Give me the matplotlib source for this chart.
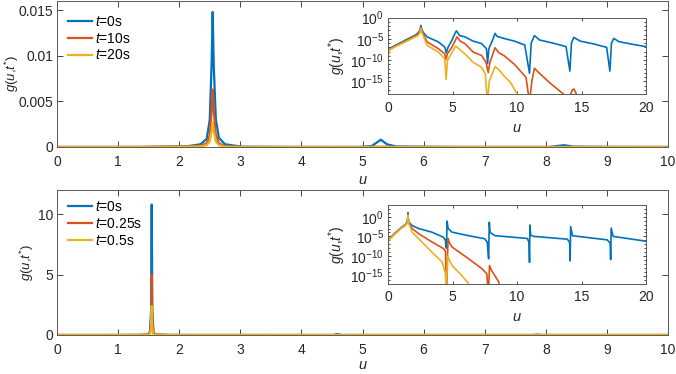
import matplotlib.pyplot as plt
from matplotlib.ticker import LogLocator, NullFormatter

plt.rcParams['font.family'] = 'Liberation Sans'
plt.rcParams['font.size'] = 10
plt.rcParams['mathtext.fontset'] = 'custom'
plt.rcParams['mathtext.rm'] = 'Liberation Sans'
plt.rcParams['mathtext.it'] = 'Liberation Sans:italic'

# MATLAB default line colours
colors = ['#0072BD', '#D95319', '#EDB120']
text_col = '#262626'

# ---- top panel data ----
labels_top = [r'$t$=0s', r'$t$=10s', r'$t$=20s']

u_top_0 = [0, 0.1, 0.58, 1.35, 2.13, 2.35, 2.45, 2.5, 2.53, 2.548, 2.565, 2.6, 2.65, 2.75,
           3.03, 3.9, 4.4, 4.52, 4.65, 4.96, 5.15, 5.3, 5.4, 5.55, 5.96, 6.6, 7.25, 7.63,
           7.72, 7.82, 8.05, 8.3, 8.45, 8.98, 9.8, 10.6, 10.97, 11.1, 11.35, 11.75, 12.8,
           13.8, 14.1, 14.22, 14.4, 14.9, 16.0, 16.95, 17.2, 17.32, 17.5, 17.9, 19.0, 20]
g_top_0 = [8e-9, 5e-8, 3e-7, 5e-6, 8e-5, 3e-4, 9e-4, 3e-3, 9e-3, 1.48e-2, 9e-3, 3e-3, 1e-3, 3e-4,
           3e-5, 2e-6, 1.2e-7, 5e-9, 1e-7, 5e-6, 1e-4, 8e-4, 3e-4, 6e-5, 3e-5, 3e-6, 8e-7, 5e-8,
           1.5e-11, 5e-8, 2e-6, 2e-4, 4e-5, 1.3e-5, 3e-6, 3.6e-7, 8e-14, 1e-6, 6e-5, 5.5e-6, 1e-6,
           1.5e-7, 2.5e-13, 1e-6, 2.3e-5, 3e-6, 6e-7, 1e-7, 2.5e-13, 8e-7, 1.3e-5, 2.2e-6, 5e-7, 1.5e-7]

u_top_1 = [0, 0.1, 0.58, 1.35, 2.13, 2.35, 2.45, 2.5, 2.53, 2.548, 2.565, 2.6, 2.65, 2.75,
           3.03, 3.9, 4.4, 4.5, 4.6, 4.96, 5.35, 5.6, 5.96, 6.6, 7.25, 7.6, 7.77, 7.9, 8.3,
           8.6, 8.98, 9.8, 10.7, 10.97, 11.15, 11.35, 11.7, 12.6, 13.6, 13.9, 14.3, 14.42,
           14.6, 14.8, 20]
g_top_1 = [5e-9, 3e-8, 2e-7, 3e-6, 5e-5, 1.5e-4, 4e-4, 1.3e-3, 4e-3, 6.3e-3, 4e-3, 1.3e-3, 4e-4, 1e-4,
           2e-6, 5e-8, 3e-9, 1.5e-10, 3e-9, 1.2e-7, 3e-5, 3e-6, 8e-7, 8e-9, 1.2e-9, 3e-11, 1.2e-13,
           3e-11, 8e-8, 5e-9, 1.2e-9, 1e-11, 8e-15, 1e-20, 1e-15, 1.2e-12, 1e-13, 3e-16, 1e-18,
           1e-20, 1e-17, 1.5e-17, 1e-18, 1e-20, 1e-20]

u_top_2 = [0, 0.04, 0.15, 0.58, 1.35, 2.13, 2.35, 2.45, 2.5, 2.53, 2.548, 2.565, 2.6, 2.65,
           2.75, 3.03, 3.9, 4.4, 4.5, 4.62, 5.25, 5.96, 6.6, 7.25, 7.55, 7.7, 7.85, 8.3, 8.6,
           8.98, 9.5, 10.0, 10.2, 20]
g_top_2 = [6e-12, 3e-9, 3e-8, 1.5e-7, 2e-6, 3e-5, 7e-5, 2e-4, 6e-4, 1.8e-3, 2.7e-3, 1.8e-3, 6e-4, 2e-4,
           4e-5, 3e-7, 8e-9, 2e-10, 3e-15, 1e-10, 2e-7, 3e-9, 3e-11, 2e-12, 5e-14, 1e-20, 1e-15,
           3e-12, 5e-13, 2e-14, 5e-16, 1.2e-18, 1e-20, 1e-20]

# ---- bottom panel data ----
labels_bot = [r'$t$=0s', r'$t$=0.25s', r'$t$=0.5s']

u_bot_0 = [0, 0.5, 1.08, 1.35, 1.48, 1.52, 1.54, 1.55, 1.56, 1.58, 1.62, 1.87, 2.38, 3.4,
           4.3, 4.45, 4.53, 4.58, 4.66, 4.96, 6.25, 7.5, 7.7, 7.8, 7.85, 7.92, 8.3, 8.95,
           10.8, 10.93, 10.97, 11.0, 11.06, 11.3, 13.9, 14.08, 14.12, 14.16, 14.3, 17.0,
           17.22, 17.26, 17.3, 17.45, 20]
g_bot_0 = [1e-6, 5e-5, 2.5e-3, 1e-2, 4e-2, 0.2, 2.0, 10.8, 2.0, 0.2, 4e-2, 6e-3, 1e-3, 1.2e-4,
           6e-6, 1e-6, 1e-8, 8e-2, 1e-3, 1.2e-4, 1.5e-5, 2.5e-6, 3e-7, 2e-11, 4e-2, 1e-4, 1.5e-5, 1e-5,
           3e-6, 3e-7, 2.5e-12, 8e-3, 2e-5, 1e-5, 2e-6, 3e-7, 6e-12, 3e-3, 1.5e-5, 1.3e-6,
           2e-7, 1.2e-11, 1.3e-3, 1e-5, 6e-7]

u_bot_1 = [0, 0.5, 1.08, 1.35, 1.48, 1.52, 1.54, 1.55, 1.56, 1.58, 1.62, 1.87, 2.38, 3.4,
           4.3, 4.45, 4.55, 4.65, 4.75, 4.96, 6.25, 7.28, 7.66, 7.78, 7.87, 8.0, 8.57, 8.8, 20]
g_bot_1 = [1e-6, 4e-5, 2e-3, 8e-3, 3e-2, 0.12, 1.0, 5.0, 1.0, 0.12, 2.5e-2, 1e-3, 5e-5, 4e-7,
           8e-9, 2e-9, 1e-20, 3e-6, 3e-7, 2e-8, 2e-11, 6e-14, 3e-15, 1e-20, 4e-13, 3e-14, 3e-17,
           1e-20, 1e-20]

u_bot_2 = [0, 0.05, 0.5, 1.08, 1.35, 1.48, 1.52, 1.54, 1.55, 1.56, 1.58, 1.62, 1.87, 2.38,
           3.4, 4.2, 4.45, 4.52, 4.6, 4.96, 5.7, 6.25, 6.4, 20]
g_bot_2 = [2e-11, 1e-6, 3e-5, 1.5e-3, 6e-3, 2e-2, 6e-2, 0.5, 2.4, 0.5, 6e-2, 1.5e-2, 1.2e-4, 2.5e-6,
           1e-9, 3e-12, 3e-15, 1e-20, 1e-10, 4e-13, 1.2e-15, 1e-17, 1e-20, 1e-20]

top_series = [(u_top_0, g_top_0), (u_top_1, g_top_1), (u_top_2, g_top_2)]
bot_series = [(u_bot_0, g_bot_0), (u_bot_1, g_bot_1), (u_bot_2, g_bot_2)]

ylab = r'$g$($u$,$t^{*}$)'

W, H = 676, 374


def rect(x0, y0, x1, y1):
    # pixel box (top-left origin) -> figure fraction
    return [x0 / W, 1 - y1 / H, (x1 - x0) / W, (y1 - y0) / H]


def style(ax, ticklen, xpad, ypad):
    for s in ax.spines.values():
        s.set_color('#5a5a5a')
        s.set_linewidth(0.7)
    ax.tick_params(which='both', direction='in', top=True, right=True, colors=text_col,
                   labelsize=10, width=0.6)
    ax.tick_params(which='major', length=ticklen)
    ax.tick_params(axis='x', pad=xpad)
    ax.tick_params(axis='y', pad=ypad)


def main_panel(ax, series, labels, ymax, yticks, yticklabels, leg_y, ylab_x, xlab_y):
    for (u, g), c, lab in zip(series, colors, labels):
        ax.plot(u, g, color=c, lw=1.6, label=lab)
    ax.set_xlim(0, 10)
    ax.set_ylim(0, ymax)
    ax.set_xticks(range(11))
    ax.set_yticks(yticks)
    ax.set_yticklabels(yticklabels)
    style(ax, 4, 5.5, 2.5)
    ax.set_xlabel(r'$u$', color=text_col, fontsize=10.5)
    ax.set_ylabel(ylab, color=text_col, fontsize=9.5)
    ax.yaxis.set_label_coords(ylab_x, 0.5)
    ax.xaxis.set_label_coords(0.5, xlab_y)
    ax.legend(loc='upper left', bbox_to_anchor=(0.018, leg_y), frameon=False, borderaxespad=0,
              borderpad=0, handlelength=1.75, handletextpad=0.2, labelspacing=0.2, fontsize=10)


def inset_panel(ax, series, ylo, yhi, xlab_y):
    for (u, g), c in zip(series, colors):
        ax.plot(u, g, color=c, lw=1.2)
    ax.set_yscale('log')
    ax.set_xlim(0, 20)
    ax.set_ylim(ylo, yhi)
    ax.set_xticks([0, 5, 10, 15, 20])
    ax.set_yticks([1e0, 1e-5, 1e-10, 1e-15])
    ax.yaxis.set_minor_locator(LogLocator(base=10, subs=(1.0,), numticks=40))
    ax.yaxis.set_minor_formatter(NullFormatter())
    style(ax, 2.5, 5, 3)
    ax.tick_params(which='minor', length=1.5)
    ax.set_xlabel(r'$u$', color=text_col, fontsize=10.5)
    ax.set_ylabel(ylab, color=text_col, fontsize=10)
    ax.yaxis.set_label_coords(-0.155, 0.5)
    ax.xaxis.set_label_coords(0.5, xlab_y)


fig = plt.figure(figsize=(6.76, 3.74), dpi=100)

ax1 = fig.add_axes(rect(57, 1, 668, 147))
main_panel(ax1, top_series, labels_top, 0.016, [0, 0.005, 0.01, 0.015],
           ['0', '0.005', '0.01', '0.015'], 0.905, -0.059, -0.175)

ax2 = fig.add_axes(rect(57, 190, 668, 335))
main_panel(ax2, bot_series, labels_bot, 12, [0, 5, 10], ['0', '5', '10'], 0.93, -0.034, -0.16)

ins1 = fig.add_axes(rect(388, 17.7, 646, 94))
inset_panel(ins1, top_series, 1e-18, 1e0, -0.36)

ins2 = fig.add_axes(rect(388, 205, 646, 283.5))
inset_panel(ins2, bot_series, 1e-17, 1e3, -0.34)

fig.savefig('out.png', dpi=100)
